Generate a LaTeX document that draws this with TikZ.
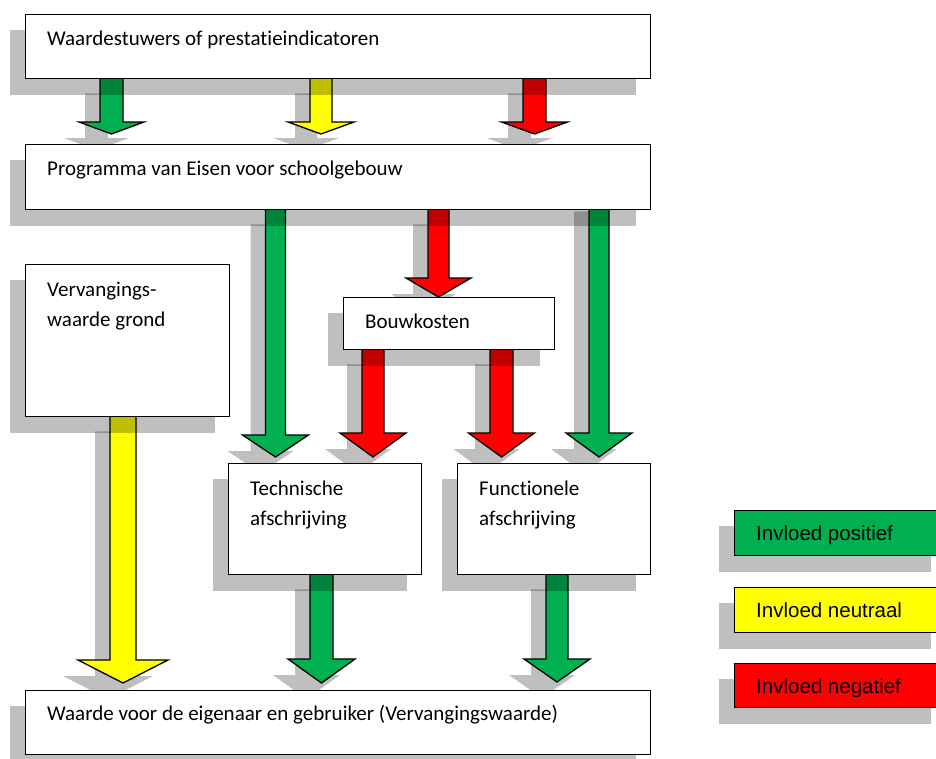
\documentclass[tikz,border=0pt]{standalone}
\usepackage{fontspec}
\setmainfont{Carlito}[Ligatures=NoCommon]
\newfontfamily\arialfont{Liberation Sans}
\usetikzlibrary{calc}
\definecolor{cgreen}{HTML}{00B050}
\definecolor{cyellow}{HTML}{FFFF00}
\definecolor{cred}{HTML}{FF0000}
\pgfdeclarelayer{arrowshadows}
\pgfdeclarelayer{arrows}
\pgfdeclarelayer{boxshadows}
\pgfsetlayers{arrowshadows,arrows,boxshadows,main}
\tikzset{
  box/.style={draw=black, line width=1.3pt, fill=white, anchor=north west, inner sep=0pt},
  boxshadow/.style={fill=black, fill opacity=0.25},
  boxtext/.style={anchor=base west, inner sep=0pt, font=\fontsize{21}{30}\selectfont},
  legendtext/.style={anchor=base west, inner sep=0pt, font=\arialfont\fontsize{20.5}{25}\selectfont},
  arrowbody/.style={draw=black, line width=1.3pt, line join=miter},
  arrowshadow/.style={fill=black, fill opacity=0.25, draw=none},
}
\newcommand\sdx{0pt}
\newcommand\sdy{0pt}
% #1 style, #2 x, #3 from node, #4 to node, #5 start extra, #6 gap, #7 shaft half, #8 head half, #9 head length
\newcommand\fatarrow[9]{%
  \path[#1] let \p1=(#3.south), \p2=(#4.north) in
    ({#2pt-#7pt+\sdx},{\y1+#5pt+\sdy}) --
    ({#2pt-#7pt+\sdx},{\y2+#6pt+#9pt+\sdy}) --
    ({#2pt-#8pt+\sdx},{\y2+#6pt+#9pt+\sdy}) --
    ({#2pt+\sdx},{\y2+#6pt+\sdy}) --
    ({#2pt+#8pt+\sdx},{\y2+#6pt+#9pt+\sdy}) --
    ({#2pt+#7pt+\sdx},{\y2+#6pt+#9pt+\sdy}) --
    ({#2pt+#7pt+\sdx},{\y1+#5pt+\sdy}) -- cycle;}
\newcommand\allarrows[1]{%
  \fatarrow{fill=cgreen,#1}{111.5}{b1}{b2}{2}{10}{11.5}{32.5}{12}
  \fatarrow{fill=cyellow,#1}{321}{b1}{b2}{2}{10}{11}{33}{12}
  \fatarrow{fill=cred,#1}{534.5}{b1}{b2}{2}{10}{11.5}{33}{12}
  \fatarrow{fill=cgreen,#1}{275.5}{b2}{tech}{2}{6}{10}{33}{22}
  \fatarrow{fill=cred,#1}{438.5}{b2}{bouw}{2}{0}{10.5}{32.5}{19}
  \fatarrow{fill=cred,#1}{373}{bouw}{tech}{2}{6}{11}{33}{24}
  \fatarrow{fill=cred,#1}{501.5}{bouw}{func}{2}{6}{11.5}{33}{24}
  \fatarrow{fill=cgreen,#1}{599}{b2}{func}{15}{6}{10}{33}{24}
  \fatarrow{fill=cyellow,#1}{123}{verv}{bot}{2}{7}{13}{45}{23}
  \fatarrow{fill=cgreen,#1}{321.5}{tech}{bot}{2}{7}{11.5}{33.5}{24}
  \fatarrow{fill=cgreen,#1}{557}{func}{bot}{2}{8}{11}{33}{23}}
\begin{document}
\begin{tikzpicture}[x=1pt,y=-1pt]
\useasboundingbox (0,0) rectangle (936,758);
% boxes
\node[box, minimum width=625pt, minimum height=64pt] (b1) at (25,14) {};
\node[box, minimum width=625pt, minimum height=65pt] (b2) at (25,144) {};
\node[box, minimum width=204pt, minimum height=152pt] (verv) at (25,264) {};
\node[box, minimum width=211pt, minimum height=52pt] (bouw) at (343,297) {};
\node[box, minimum width=193pt, minimum height=111pt] (tech) at (228,463) {};
\node[box, minimum width=193pt, minimum height=111pt] (func) at (457,463) {};
\node[box, minimum width=625pt, minimum height=64pt] (bot) at (25,690) {};
\node[box, fill=cgreen, minimum width=211pt, minimum height=45pt] (lg) at (734,510) {};
\node[box, fill=cyellow, minimum width=211pt, minimum height=45pt] (ly) at (734,587) {};
\node[box, fill=cred, minimum width=211pt, minimum height=44pt] (lr) at (734,663) {};
% texts
\node[boxtext] (t1) at ($(b1.north west)+(22,31)$) {Waardestuwers of prestatieindicatoren};
\node[boxtext] (t2) at ($(b2.north west)+(22,31)$) {Programma van Eisen voor schoolgebouw};
\node[boxtext] (t3a) at ($(verv.north west)+(22,32)$) {Vervangings-};
\node[boxtext] (t3b) at ($(verv.north west)+(22,62)$) {waarde grond};
\node[boxtext] (t4) at ($(bouw.north west)+(22,31)$) {Bouwkosten};
\node[boxtext] (t5a) at ($(tech.north west)+(22,32)$) {Technische};
\node[boxtext] (t5b) at ($(tech.north west)+(22,62)$) {afschrijving};
\node[boxtext] (t6a) at ($(func.north west)+(22,32)$) {Functionele};
\node[boxtext] (t6b) at ($(func.north west)+(22,62)$) {afschrijving};
\node[boxtext] (t7) at ($(bot.north west)+(22,30)$) {Waarde voor de eigenaar en gebruiker (Vervangingswaarde)};
\node[legendtext] (lgt) at ($(lg.north west)+(22,30)$) {Invloed positief};
\node[legendtext] (lyt) at ($(ly.north west)+(22,30)$) {Invloed neutraal};
\node[legendtext] (lrt) at ($(lr.north west)+(22,30)$) {Invloed negatief};
% box shadows
\begin{pgfonlayer}{boxshadows}
\foreach \n in {b1,b2,verv,bouw,tech,func,bot,lg,ly,lr}
  \fill[boxshadow] ([shift={(-15pt,-16pt)}]\n.south west) rectangle ([shift={(-15pt,-16pt)}]\n.north east);
\end{pgfonlayer}
% arrows
\begin{pgfonlayer}{arrowshadows}
\renewcommand\sdx{-15pt}\renewcommand\sdy{-16pt}
\allarrows{arrowshadow}
\end{pgfonlayer}
\begin{pgfonlayer}{arrows}
\renewcommand\sdx{0pt}\renewcommand\sdy{0pt}
\allarrows{arrowbody}
\end{pgfonlayer}
\end{tikzpicture}
\end{document}
